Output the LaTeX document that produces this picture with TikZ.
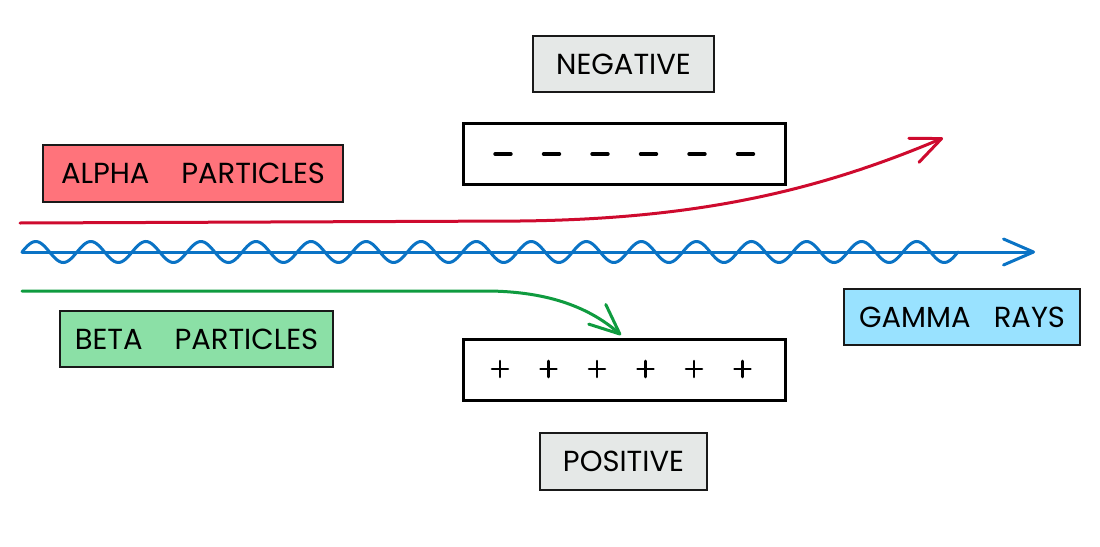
\documentclass[tikz,border=0pt]{standalone}
\usepackage{fontspec}
\usepackage{xcolor}
\usepackage{tikz}
\usetikzlibrary{arrows.meta}
\setmainfont{Poppins}
\definecolor{alphafill}{RGB}{255,115,123}
\definecolor{betafill}{RGB}{139,224,166}
\definecolor{gammafill}{RGB}{153,226,255}
\definecolor{signfill}{RGB}{229,232,231}
\definecolor{alphaline}{RGB}{206,10,46}
\definecolor{betaline}{RGB}{15,155,63}
\definecolor{gammaline}{RGB}{10,115,197}

\begin{document}
\begin{tikzpicture}[x=1pt,y=-1pt,
  labelbox/.style={draw=black!90, line width=2pt, inner sep=0pt, font=\fontsize{29}{34}\selectfont},
  plate/.style={draw=black, line width=3pt, fill=white, minimum width=322pt, minimum height=61pt, inner sep=0pt},
  sign/.style={line width=2.6pt, line cap=round},
  ray/.style={line width=3pt, line cap=round},
  tip/.style={-{Straight Barb[length=30pt,width=26pt,line cap=round,line join=round]}}]
\useasboundingbox (0,0) rectangle (1100,546);

% Labels
\node[labelbox, fill=signfill, minimum width=181pt, minimum height=56pt] (neg) at (623.5,64) {NEGATIVE};
\node[labelbox, fill=signfill, minimum width=167pt, minimum height=57pt] (pos) at (623.5,461.5) {POSITIVE};
\node[labelbox, fill=alphafill, minimum width=300pt, minimum height=57pt] (alpha) at (193,173.5) {ALPHA\hspace{1.1em}PARTICLES};
\node[labelbox, fill=betafill, minimum width=273pt, minimum height=56pt] (beta) at (196.5,339) {BETA\hspace{1.1em}PARTICLES};
\node[labelbox, fill=gammafill, minimum width=236pt, minimum height=56pt] (gamma) at (962,317) {GAMMA\hspace{0.8em}RAYS};

% Plates
\node[plate] (negplate) at (624,153.5) {};
\node[plate] (posplate) at (624,369.5) {};
\foreach \i in {0,...,5} {
  \draw[sign, line width=3.4pt] ({495+48.5*\i},154) -- ({511+48.5*\i},154);
  \draw[sign] ({492+48.5*\i},369) -- ({508+48.5*\i},369);
  \draw[sign] ({500+48.5*\i},361) -- ({500+48.5*\i},377);
}

% Rays
\coordinate (alphaA) at (20,223);
\coordinate (alphaB) at (520,221);
\coordinate (alphaC) at (943,138);
\coordinate (betaA) at (22,291);
\coordinate (betaB) at (490,291);
\coordinate (betaC) at (621,335);
\coordinate (gammaA) at (22,252);
\coordinate (gammaC) at (1035,252);

\draw[ray, alphaline, tip] (alphaA) -- (alphaB) .. controls (700,219) and (820,190) .. (alphaC);
\draw[ray, betaline, tip] (betaA) -- (betaB) .. controls (550,292) and (590,308) .. (betaC);
\draw[ray, gammaline, tip] (gammaA) -- (gammaC);
\draw[ray, gammaline] plot[domain=22:958, samples=500, smooth] (\x, {252-10.5*sin(6.5384*(\x-22))});
\end{tikzpicture}
\end{document}
